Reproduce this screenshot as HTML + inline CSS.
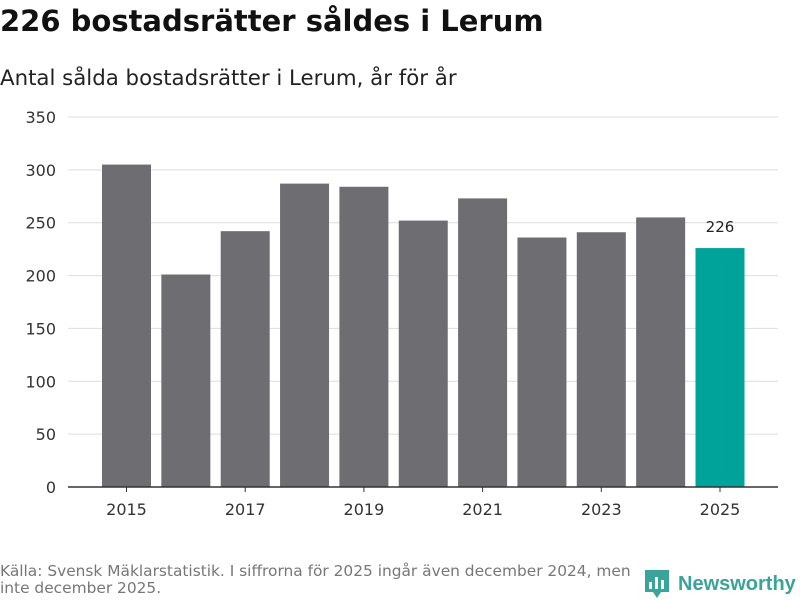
<!DOCTYPE html>
<html><head><meta charset="utf-8"><style>
body{margin:0;background:#fff;font-family:"DejaVu Sans","Liberation Sans",sans-serif;}
#wrap{position:relative;width:800px;height:600px;overflow:hidden;}
</style></head><body>
<div id="wrap">
<div style="position:absolute;left:0;top:4px;font-size:29px;font-weight:bold;color:#111;">226 bostadsrätter såldes i Lerum</div>
<div style="position:absolute;left:0;top:66px;font-size:21.3px;color:#222;">Antal sålda bostadsrätter i Lerum, år för år</div>
<svg id="chart" width="800" height="540" style="position:absolute;left:0;top:0"></svg>
<div style="position:absolute;left:0;top:563px;width:640px;font-size:15.4px;line-height:17px;color:#777;">Källa: Svensk Mäklarstatistik. I siffrorna för 2025 ingår även december 2024, men inte december 2025.</div>
<div style="position:absolute;left:645px;top:570px;display:flex;align-items:center;">
<svg width="24" height="28"><path d="M0 0h24v22h-8l-4 6-4-6H0z" fill="#3aa39a"/><rect x="4" y="12" width="3" height="7" fill="#fff"/><rect x="10" y="7" width="3" height="12" fill="#fff"/><rect x="16" y="10" width="3" height="9" fill="#fff"/></svg>
<span style="margin-left:9px;font-family:'Liberation Sans',sans-serif;font-size:20px;font-weight:bold;color:#3aa39a;">Newsworthy</span></div>
</div>
<script>
const categories=[2015,2016,2017,2018,2019,2020,2021,2022,2023,2024,2025];
const values=[305,201,242,287,284,252,273,236,241,255,226];
const yTicks=[0,50,100,150,200,250,300,350];
const xTickLabels=[2015,2017,2019,2021,2023,2025];
const NS="http://www.w3.org/2000/svg";
const svg=document.getElementById('chart');
const x0=68,x1=778,y0=487,yTop=117,yMax=350;
const y=v=>y0-(v/yMax)*(y0-yTop);
const firstC=126.5, stepC=59.35;
const xc=i=>firstC+i*stepC;
const bw=49;
function mk(t,a){const e=document.createElementNS(NS,t);for(const k in a)e.setAttribute(k,a[k]);svg.appendChild(e);return e;}
yTicks.forEach(v=>{
 if(v>0){const g=mk('line',{x1:x0,x2:x1,y1:y(v),y2:y(v),stroke:'#ddd','stroke-width':1});
 
 }
 const t=mk('text',{x:56,y:y(v)+6,'text-anchor':'end','font-size':16,fill:'#333'});t.textContent=v;
 
 
});
values.forEach((v,i)=>{
 const last=i===values.length-1;
 const r=mk('rect',{x:xc(i)-bw/2,y:y(v),width:bw,height:y0-y(v),fill:last?'#00a39a':'#6e6d72'});
 
 
 if(last){const t=mk('text',{x:xc(i),y:y(v)-16,'text-anchor':'middle','font-size':15,fill:'#222'});t.textContent=v;
 
 }
});
const ax=mk('line',{x1:x0,x2:x1,y1:y0,y2:y0,stroke:'#333','stroke-width':1.5});


xTickLabels.forEach(c=>{
 const i=categories.indexOf(c);
 const tk=mk('line',{x1:xc(i),x2:xc(i),y1:y0,y2:y0+5,stroke:'#333'});
 
 
 const t=mk('text',{x:xc(i),y:y0+28,'text-anchor':'middle','font-size':16,fill:'#333'});t.textContent=c;
 
 
});
</script>
</body></html>
